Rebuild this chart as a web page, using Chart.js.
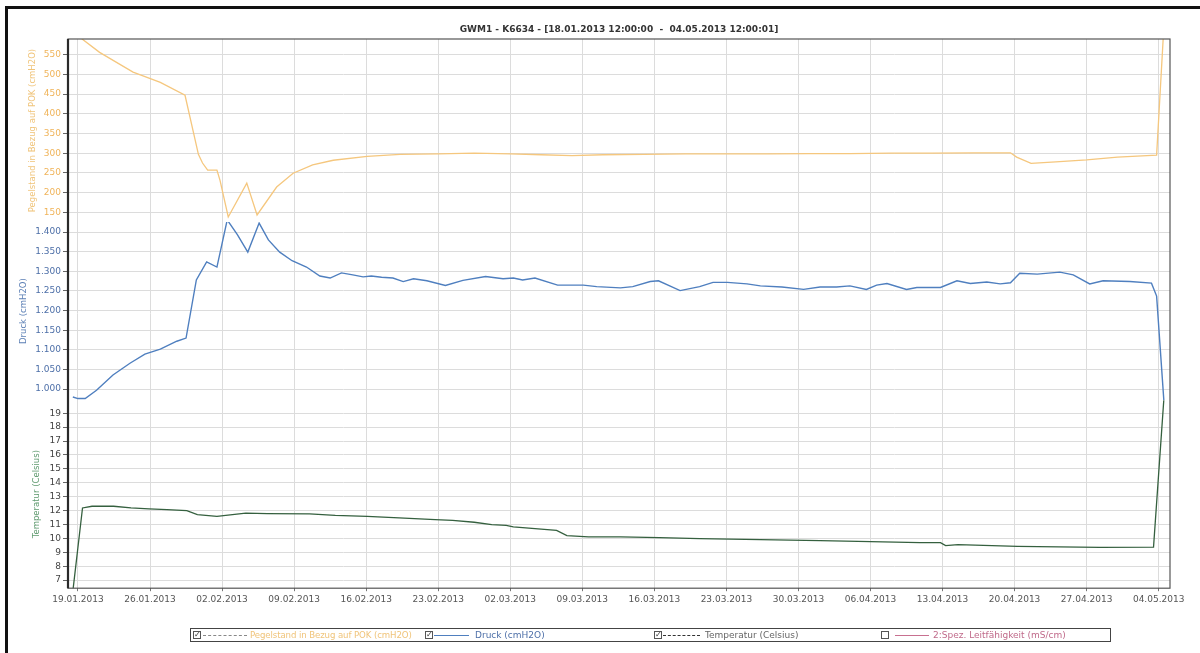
<!DOCTYPE html>
<html lang="de">
<head>
<meta charset="utf-8">
<title>GWM1 - K6634</title>
<script src="https://cdn.jsdelivr.net/npm/chart.js@4.4.1/dist/chart.umd.min.js"></script>
<style>
  html, body { margin: 0; padding: 0; background: #fff; }
  #wrap { position: relative; width: 1200px; height: 653px; overflow: hidden; background: #fff; font-family: "DejaVu Sans", Verdana, sans-serif; }
  #c { position: absolute; left: 0; top: 0; }
  #frame { position: absolute; left: 5px; top: 6px; right: -10px; bottom: -10px; border-left: 3px solid #111; border-top: 3px solid #111; pointer-events: none; }
  #legend { position: absolute; left: 190px; top: 628px; width: 921px; height: 14px; border: 1px solid #444; box-sizing: border-box; }
  .cb { position: absolute; top: 631px; width: 8px; height: 8px; border: 1px solid #555; box-sizing: border-box; font-size: 8px; line-height: 6px; text-align: center; color: #333; background: #fff; }
  .ln { position: absolute; top: 635px; height: 0; }
  .tx { position: absolute; top: 629px; font-size: 9px; line-height: 12px; white-space: nowrap; }
</style>
</head>
<body>
<div id="wrap">
  <canvas id="c" width="1200" height="653"></canvas>
  <div id="frame"></div>
  <div id="legend"></div>
  <span class="cb" style="left:193px">&#10003;</span>
  <span class="ln" style="left:203px;width:44px;border-top:1px dashed #888"></span>
  <span class="tx" style="left:250px;color:#f0c47a;font-size:8.6px;letter-spacing:-0.1px">Pegelstand in Bezug auf POK (cmH2O)</span>
  <span class="cb" style="left:425px">&#10003;</span>
  <span class="ln" style="left:434px;width:35px;border-top:1px solid #4f7fbf"></span>
  <span class="tx" style="left:475px;color:#4d6fa8">Druck (cmH2O)</span>
  <span class="cb" style="left:654px">&#10003;</span>
  <span class="ln" style="left:663px;width:37px;border-top:1px dashed #333"></span>
  <span class="tx" style="left:705px;color:#666">Temperatur (Celsius)</span>
  <span class="cb" style="left:881px"></span>
  <span class="ln" style="left:895px;width:34px;border-top:1px solid #c87090"></span>
  <span class="tx" style="left:933px;color:#c06a8a">2:Spez. Leitfähigkeit (mS/cm)</span>
</div>
<script>
// Time axis: days since 19.01.2013 00:00
const xTickDays = [0, 7, 14, 21, 28, 35, 42, 49, 56, 63, 70, 77, 84, 91, 98, 105];
const xTickLabels = ['19.01.2013', '26.01.2013', '02.02.2013', '09.02.2013', '16.02.2013', '23.02.2013',
  '02.03.2013', '09.03.2013', '16.03.2013', '23.03.2013', '30.03.2013', '06.04.2013', '13.04.2013',
  '20.04.2013', '27.04.2013', '04.05.2013'];

// Pegelstand in Bezug auf POK (cmH2O)
const pegelDays = [-0.5, 0.4, 2.1, 5.35, 8.0, 10.4, 11.7, 12.1, 12.6, 13.5, 13.8, 14.6, 16.4, 17.4, 19.3,
  20.9, 22.8, 24.8, 28.1, 31.3, 35, 38.5, 42, 45, 48, 51, 55, 59, 63, 67, 71, 75, 79, 83, 87, 90.6, 91.2,
  92.6, 95, 98, 101, 104.8, 105.5];
const pegelValues = [615, 590, 556, 506, 480, 447, 297, 275, 257, 257, 231, 138, 224, 143, 214,
  249, 270, 282, 292, 297, 298, 300, 298, 296, 294, 296, 297, 298, 298, 298, 299, 299, 300, 300, 301, 301, 290,
  274, 278, 283, 290, 295, 620];

// Druck (cmH2O)
const druckDays = [-0.5, 0.0, 0.7, 1.8, 3.4, 5.05, 6.5, 8.0, 9.6, 10.5, 11.5, 12.5, 13.5, 14.5, 15.5, 16.5,
  17.6, 18.5, 19.6, 20.8, 22.2, 23.5, 24.5, 25.6, 26.7, 27.7, 28.5, 29.5, 30.6, 31.6, 32.6, 33.9, 35.7, 37.4,
  39.6, 41.3, 42.3, 43.2, 44.4, 46.6, 49.1, 50.4, 52.7, 53.9, 55.6, 56.4, 58.5, 60.4, 61.7, 63.1, 65.0, 66.3,
  68.4, 70.5, 72.1, 73.7, 75.0, 76.6, 77.6, 78.6, 80.5, 81.5, 83.8, 85.4, 86.7, 88.3, 89.6, 90.6, 91.5, 93.2,
  95.4, 96.7, 98.3, 99.6, 102.2, 104.3, 104.8, 105.5];
const druckValues = [980, 976, 976, 997, 1036, 1066, 1089, 1102, 1122, 1130, 1278, 1324, 1311, 1431, 1393, 1349,
  1423, 1380, 1349, 1327, 1311, 1288, 1283, 1296, 1291, 1286, 1288, 1285, 1283, 1274, 1281, 1276, 1264, 1277,
  1287, 1281, 1283, 1278, 1283, 1265, 1265, 1261, 1258, 1261, 1274, 1276, 1251, 1261, 1272, 1272, 1268, 1263,
  1260, 1254, 1260, 1260, 1263, 1254, 1265, 1269, 1254, 1259, 1259, 1276, 1269, 1273, 1268, 1271, 1295, 1293,
  1298, 1291, 1268, 1276, 1274, 1270, 1237, 972];

// Temperatur (Celsius)
const tempDays = [-0.5, 0.44, 1.36, 3.46, 5.15, 6.9, 8.65, 10.57, 11.6, 13.5, 16.3, 18.4, 22.5, 25.0, 28.1,
  31.2, 34.7, 36.4, 38.5, 40.2, 41.6, 42.3, 46.5, 47.5, 49.6, 52.7, 56.5, 60.4, 66.3, 72.1, 77.0, 81.8, 83.8,
  84.3, 85.5, 91.3, 99.3, 104.5, 105.5];
const tempValues = [6.2, 12.19, 12.31, 12.31, 12.19, 12.12, 12.07, 12.0, 11.71, 11.59, 11.82, 11.78, 11.76, 11.66, 11.59,
  11.47, 11.35, 11.30, 11.16, 10.99, 10.94, 10.83, 10.58, 10.20, 10.11, 10.11, 10.05, 9.99, 9.91, 9.84, 9.77, 9.70, 9.70,
  9.48, 9.55, 9.43, 9.36, 9.37, 19.98];

// Tick values of the three stacked value axes
const pegelTicks = [150, 200, 250, 300, 350, 400, 450, 500, 550];
const druckTicks = [1000, 1050, 1100, 1150, 1200, 1250, 1300, 1350, 1400];
const tempTicks = [7, 8, 9, 10, 11, 12, 13, 14, 15, 16, 17, 18, 19];

const FONT = '"DejaVu Sans", Verdana, sans-serif';
const GRID = '#dcdcdc';

const zip = (xs, ys) => xs.map((x, i) => ({ x, y: ys[i] }));
const fmtDe = v => String(v).replace(/\B(?=(\d{3})+(?!\d))/g, '.');
const fixTicks = arr => scale => { scale.ticks = arr.map(v => ({ value: v })); };
const fixWidth = scale => { scale.width = 54; };

// Plot frame around the chart area
const framePlugin = {
  id: 'plotFrame',
  afterDraw(chart) {
    const { ctx, chartArea: a } = chart;
    ctx.save();
    ctx.strokeStyle = '#555';
    ctx.lineWidth = 1.2;
    ctx.strokeRect(a.left, a.top, a.right - a.left, a.bottom - a.top);
    ctx.strokeStyle = '#2a2a2a';
    ctx.lineWidth = 2.2;
    ctx.beginPath();
    ctx.moveTo(a.left, a.top);
    ctx.lineTo(a.left, a.bottom);
    ctx.stroke();
    ctx.restore();
  }
};

function valueAxis(opts) {
  return {
    type: 'linear',
    position: 'left',
    stack: 'links',
    stackWeight: opts.weightPx,
    weight: opts.order,
    min: opts.min,
    max: opts.max,
    afterBuildTicks: fixTicks(opts.ticks),
    afterFit: fixWidth,
    border: { display: false },
    grid: { color: GRID, lineWidth: 1, tickColor: '#666', tickLength: 5 },
    ticks: { color: opts.tickColor, font: { family: FONT, size: 9 }, padding: 2, autoSkip: false,
      callback: v => fmtDe(v) },
    title: {
      display: true, text: opts.title, color: opts.titleColor,
      font: { family: FONT, size: 8.5 }, padding: { top: opts.titlePad, bottom: 0 }
    }
  };
}

new Chart(document.getElementById('c'), {
  type: 'line',
  data: {
    datasets: [
      { label: 'Pegelstand in Bezug auf POK (cmH2O)', data: zip(pegelDays, pegelValues), yAxisID: 'yPegel',
        borderColor: '#f5c77e', borderWidth: 1.3 },
      { label: 'Druck (cmH2O)', data: zip(druckDays, druckValues), yAxisID: 'yDruck',
        borderColor: '#4f7fbf', borderWidth: 1.4 },
      { label: 'Temperatur (Celsius)', data: zip(tempDays, tempValues), yAxisID: 'yTemp',
        borderColor: '#35603f', borderWidth: 1.3 }
    ]
  },
  options: {
    responsive: false,
    animation: false,
    events: [],
    elements: { point: { radius: 0 }, line: { tension: 0 } },
    layout: { padding: { left: 14, right: 30, top: 20, bottom: 45 } },
    plugins: {
      legend: { display: false },
      tooltip: { enabled: false },
      title: {
        display: true, fullSize: false,
        text: 'GWM1 - K6634 - [18.01.2013 12:00:00  -  04.05.2013 12:00:01]',
        color: '#333', font: { family: FONT, size: 9, weight: 'bold' },
        padding: { top: 4, bottom: 4.2 }
      }
    },
    scales: {
      x: {
        type: 'linear', position: 'bottom',
        min: -0.97, max: 106.1,
        afterBuildTicks: fixTicks(xTickDays),
        border: { display: false },
        grid: { color: GRID, lineWidth: 1, tickColor: '#777', tickLength: 3 },
        ticks: {
          color: '#555', font: { family: FONT, size: 9 }, padding: 3, autoSkip: false, maxRotation: 0,
          callback: v => xTickLabels[xTickDays.indexOf(v)]
        }
      },
      yPegel: valueAxis({ weightPx: 183, order: 3, min: 125, max: 590, ticks: pegelTicks,
        tickColor: '#f0b45a', title: 'Pegelstand in Bezug auf POK (cmH2O)', titleColor: '#f0c47a', titlePad: 14 }),
      yDruck: valueAxis({ weightPx: 178, order: 2, min: 972, max: 1425.5, ticks: druckTicks,
        tickColor: '#4d6fa8', title: 'Druck (cmH2O)', titleColor: '#5b7fb5', titlePad: 5 }),
      yTemp: valueAxis({ weightPx: 188, order: 1, min: 6.42, max: 19.94, ticks: tempTicks,
        tickColor: '#444', title: 'Temperatur (Celsius)', titleColor: '#5f9a6f', titlePad: 18 })
    }
  },
  plugins: [framePlugin]
});
</script>
</body>
</html>
